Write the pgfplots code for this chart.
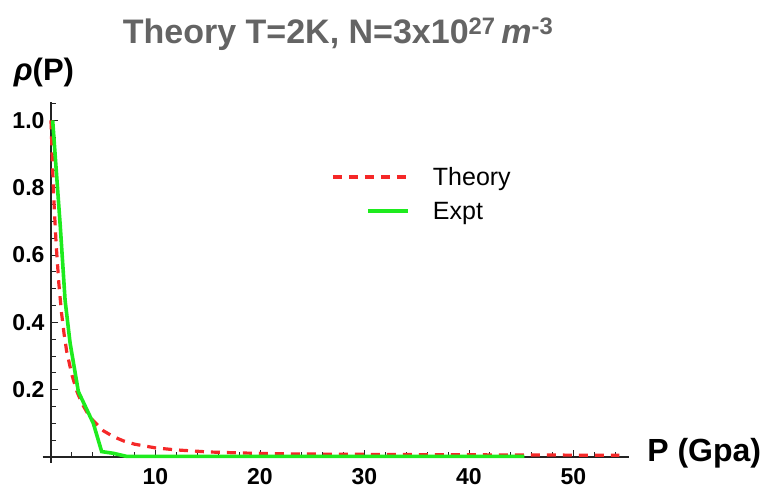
\documentclass[border=0pt]{standalone}
\usepackage{fontspec}
\setmainfont{Liberation Sans}
\usepackage{pgfplots}
\pgfplotsset{compat=1.18}
\definecolor{thred}{RGB}{245,40,40}
\definecolor{exgreen}{RGB}{30,235,30}
\definecolor{titlegray}{RGB}{100,100,100}
\definecolor{axgray}{RGB}{35,35,35}
\pgfplotsset{
  theoryleg/.style={legend image code/.code={\path[draw=none,fill=none] (0pt,-0.5pt) rectangle (100pt,0.5pt); \draw[##1, line width=3.2pt, dash pattern=on 9pt off 7pt] (0pt,0pt) -- (78pt,0pt);}},
  exptleg/.style={legend image code/.code={\path[draw=none,fill=none] (0pt,-0.5pt) rectangle (96pt,0.5pt); \draw[##1, line width=3.6pt] (35pt,0pt) -- (75pt,0pt);}},
}
\begin{document}
\begin{tikzpicture}
\begin{axis}[
  scale only axis,
  width=586.2pt, height=360.8pt,
  xmin=-0.8, xmax=55.3, ymin=-0.017, ymax=1.055,
  axis lines=middle,
  axis line style={axgray, line width=1.1pt, -},
  clip=false,
  xtick={10,20,30,40,50},
  ytick={0.2,0.4,0.6,0.8,1.0},
  minor xtick={2,4,6,8,12,14,16,18,22,24,26,28,32,34,36,38,42,44,46,48,52,54},
  minor ytick={0.05,0.1,0.15,0.25,0.3,0.35,0.45,0.5,0.55,0.65,0.7,0.75,0.85,0.9,0.95,1.05},
  tick align=inside,
  major tick length=7pt, minor tick length=4.5pt,
  every tick/.style={axgray, line width=0.8pt},
  /pgf/number format/assume math mode=true,
  ticklabel style={font=\fontsize{23}{23}\selectfont\bfseries, text=black},
  xticklabel style={yshift=-8pt},
  yticklabel style={/pgf/number format/fixed, /pgf/number format/fixed zerofill, /pgf/number format/precision=1, xshift=-3pt},
  xlabel={P (Gpa)},
  xlabel style={at={(axis description cs:1,0.01586)}, anchor=base west, xshift=15pt, yshift=-5pt, font=\fontsize{32}{32}\selectfont\bfseries},
  ylabel={\textit{ρ}(P)},
  ylabel style={at={(axis description cs:0.01426,1)}, anchor=base, rotate=0, xshift=-7pt, yshift=21pt, font=\fontsize{31}{31}\selectfont\bfseries},
  title={Theory T=2K, N=3x10\textsuperscript{27}\,\textit{m}\textsuperscript{-3}},
  title style={at={(axis description cs:0.504,1)}, anchor=base, yshift=52pt, font=\fontsize{34}{34}\selectfont\bfseries, text=titlegray},
  legend style={draw=none, fill=none, at={(axis description cs:0.6455,0.745)}, anchor=center, inner sep=0pt, row sep=15pt, font=\fontsize{25}{25}\selectfont, nodes={inner sep=0pt}},
  legend cell align=left,
]
\addplot[thred, line width=3.2pt, dash pattern=on 9pt off 7pt, theoryleg]
  coordinates {
  (0,1.0) (0.1,0.903) (0.2,0.82) (0.3,0.747) (0.5,0.628) (0.75,0.516) (1.0,0.43)
  (1.25,0.366) (1.5,0.314) (2.0,0.244) (2.5,0.193) (3.0,0.157) (3.5,0.13)
  (4.0,0.109) (5.0,0.078) (6.0,0.06) (7.0,0.047) (8.0,0.038) (10,0.027)
  (12,0.021) (15,0.015) (18,0.012) (22,0.0095) (26,0.0085) (30,0.0078)
  (35,0.007) (40,0.0065) (45,0.006) (50,0.0055) (54.4,0.005)
  };
\addlegendentry{Theory}
\addplot[exgreen, line width=3.6pt, exptleg]
  coordinates {
  (0.16,1.0) (0.9,0.68) (1.35,0.465) (1.83,0.338) (2.62,0.194) (4.05,0.1)
  (4.85,0.016) (5.95,0.011) (7.2,0.002) (45.3,0.002)
  };
\addlegendentry{Expt}
\end{axis}
\pgfresetboundingbox
\useasboundingbox (-42.64pt,-27.3pt) rectangle (722.36pt,462.7pt);
\end{tikzpicture}
\end{document}
